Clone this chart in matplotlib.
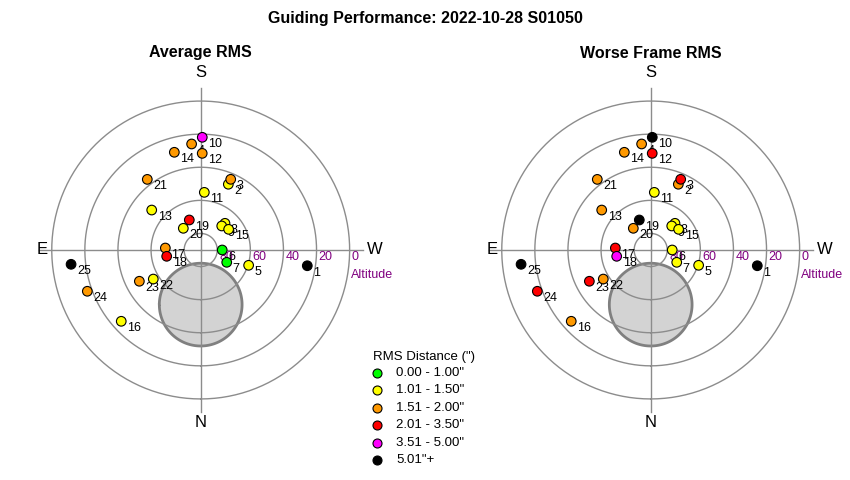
import numpy as np
import matplotlib
matplotlib.use("Agg")
import matplotlib.pyplot as plt

plt.rcParams['font.family'] = ['Liberation Sans', 'DejaVu Sans']

# ==================================================
# DATOS (azimut / altitud de cada campo)
# ==================================================
labels = ["1", "2", "3", "4", "5", "6", "7", "8", "9", "10", "11", "12", "13",
          "14", "15", "16", "17", "18", "19", "20", "21", "22", "23", "24", "25"]
az  = [278.4, 202.8, 203.0, 175.1, 287.7, 270.0, 295.3, 222.3, 221.2, 180.8,
       183.6, 180.9, 129.2, 164.9, 233.5, 48.1, 93.2, 79.5, 159.2, 141.3,
       142.9, 58.5, 63.0, 70.0, 83.7]
alt = [24.9, 46.9, 43.6, 25.7, 59.6, 77.0, 72.6, 68.2, 70.7, 21.9,
       55.1, 31.6, 51.8, 28.85, 69.0, 25.5, 68.6, 69.1, 70.6, 73.2,
       36.5, 56.4, 48.4, 17.1, 11.2]
# clase de RMS (0..5) para cada campo
avg_class   = [5, 1, 2, 2, 1, 0, 0, 1, 1, 4, 1, 2, 1, 2, 1, 1, 2, 3, 3, 1, 2, 1, 2, 2, 5]
worse_class = [5, 2, 3, 2, 1, 1, 1, 1, 1, 5, 1, 3, 2, 2, 1, 2, 3, 4, 5, 2, 2, 2, 3, 3, 5]

class_labels = ['0.00 - 1.00"', '1.01 - 1.50"', '1.51 - 2.00"',
                '2.01 - 3.50"', '3.51 - 5.00"', '5.01"+']
class_colors = ["#00ff00", "#ffff00", "#ff9900", "#ff0000", "#ff00ff", "#000000"]

ring_alts = [80, 60, 40, 20, 0]
moon_az, moon_alt, moon_radius = 0.0, 57.0, 25.0

# ==================================================
# FIGURA
# ==================================================
W, H = 850, 480
fig = plt.figure(figsize=(W / 100, H / 100), dpi=100)
fig.text(425 / W, 1 - 18 / H, "Guiding Performance: 2022-10-28 S01050",
         ha="center", va="center", fontsize=11.5, fontweight="bold")

R_PX = 165.5   # pixels para r = 100


def polar_panel(cx, cy, title, classes):
    ax = fig.add_axes([(cx - R_PX) / W, (H - cy - R_PX) / H, 2 * R_PX / W, 2 * R_PX / H],
                      projection="polar")
    ax.set_theta_zero_location("S")
    ax.set_theta_direction(-1)
    ax.set_rlim(0, 100)
    ax.axis("off")

    fig.text(cx / W, 1 - 53 / H, title, ha="center", va="center",
             fontsize=11.5, fontweight="bold")

    # zona lunar
    t = np.linspace(0, 2 * np.pi, 200)
    X = moon_radius * np.cos(t)
    Y = (90 - moon_alt) + moon_radius * np.sin(t)
    ax.fill(np.arctan2(X, Y), np.hypot(X, Y), facecolor="#d3d3d3",
            edgecolor="#808080", linewidth=2, zorder=1)

    # anillos de altitud
    th = np.linspace(0, 2 * np.pi, 400)
    for a in ring_alts:
        ax.plot(th, np.full_like(th, 90 - a), color="#8c8c8c", lw=1, zorder=2)
        ax.annotate(str(a), (np.deg2rad(270), 90 - a), xytext=(2, -7),
                    textcoords="offset pixels", ha="left", va="center",
                    fontsize=9, color="#800080", zorder=3)
    ax.annotate("Altitude", (np.deg2rad(270), 90), xytext=(1, -25),
                textcoords="offset pixels", ha="left", va="center",
                fontsize=9, color="#800080")

    # ejes cardinales
    for d in [0, 90, 180, 270]:
        ax.plot([np.deg2rad(d), np.deg2rad(d)], [0, 98], color="#8c8c8c", lw=1, zorder=2)
    for name, d, r in [("S", 180, 107), ("N", 0, 104.5), ("E", 90, 96), ("W", 270, 105)]:
        ax.text(np.deg2rad(d), r, name, ha="center", va="center", fontsize=12)

    # campos
    th_pts = np.deg2rad(az)
    r_pts = 90 - np.array(alt)
    cols = [class_colors[c] for c in classes]
    ax.scatter(th_pts, r_pts, s=48, c=cols, edgecolors="black", linewidths=0.8, zorder=5)
    for lab, tp, rp in zip(labels, th_pts, r_pts):
        ax.annotate(lab, (tp, rp), xytext=(6, -7), textcoords="offset pixels",
                    ha="left", va="center", fontsize=9, color="black", zorder=4)
    return ax


polar_panel(200.7, 250, "Average RMS", avg_class)
polar_panel(650.7, 250, "Worse Frame RMS", worse_class)

# ==================================================
# LEYENDA
# ==================================================
lax = fig.add_axes([0, 0, 1, 1])
lax.set_xlim(0, W)
lax.set_ylim(H, 0)
lax.axis("off")
lax.text(424, 357, 'RMS Distance (")', ha="center", va="center", fontsize=9.5)
for i, (lab, col) in enumerate(zip(class_labels, class_colors)):
    y = 373 + 17.4 * i
    lax.scatter([377], [y], s=42, c=col, edgecolors="black", linewidths=0.8)
    lax.text(396, y, lab, ha="left", va="center", fontsize=9.5)

fig.savefig("out.png", dpi=100)
